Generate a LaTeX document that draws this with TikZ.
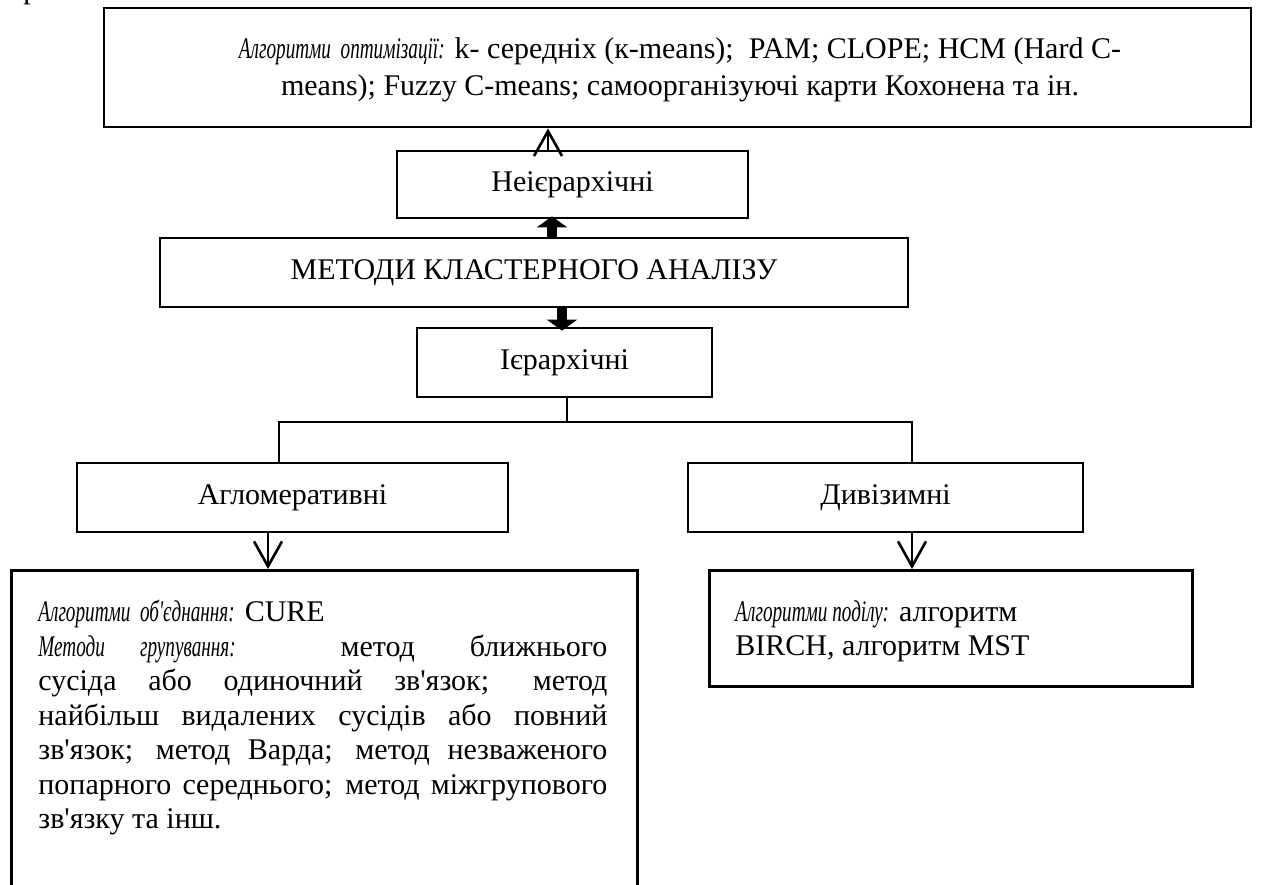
\documentclass[tikz,border=0pt]{standalone}
\usepackage{fontspec}
\setmainfont{Liberation Serif}[Ligatures=TeXOff, ItalicFeatures={FakeStretch=0.64}]
\usetikzlibrary{arrows.meta}
\begin{document}
\begin{tikzpicture}[x=0.5pt,y=-0.5pt,
  txt/.style={font=\fontsize{15}{17.25}\selectfont},
  box/.style={draw, line width=1.4pt, inner sep=0pt, txt},
  conn/.style={line width=1.2pt},
  openarr/.style={line width=1.3pt, -{Straight Barb[length=12.5pt,width=14pt]}},
  thickarr/.style={line width=5pt, -{Triangle[length=5.5pt,width=15pt]}}]
\useasboundingbox (0,0) rectangle (1261,884);
\clip (0,0) rectangle (1261,884);
\fill[white] (0,0) rectangle (1261,884);

% cut-off letter at the top left
\node[txt, anchor=base, inner sep=0pt] (pcut) at (31,-1.5) {р};

% boxes
\node[box, minimum width=573.5pt, minimum height=59.5pt] (top) at (677.5,67.5) {};
\node[txt, align=center, inner sep=0pt, font=\fontsize{15}{18.5}\selectfont] (toptext) at (680,70)
  {\textit{Алгоритми\ \ оптимізації:} k- середніх (к-means);\ \ PAM; CLOPE; HCM (Hard C-\\
   means); Fuzzy C-means; самоорганізуючі карти Кохонена та ін.};
\node[box, minimum width=175.5pt, minimum height=33.5pt] (nei) at (572.5,184.5) {Неієрархічні};
\node[box, minimum width=374pt, minimum height=34.5pt] (metody) at (534,272.5) {МЕТОДИ КЛАСТЕРНОГО АНАЛІЗУ};
\node[box, minimum width=147.5pt, minimum height=34.5pt] (iyer) at (564.5,362.5) {Ієрархічні};
\node[box, minimum width=215.5pt, minimum height=34.5pt] (aglo) at (292.5,497.5) {Агломеративні};
\node[box, minimum width=197.5pt, minimum height=34.5pt] (dyv) at (885.5,497.5) {Дивізимні};
\node[box, anchor=north west, minimum width=313pt, minimum height=175pt] (bigL) at (10,569) {};
\node[box, anchor=north west, minimum width=241.5pt, minimum height=58pt] (bigR) at (708,569) {};

% box texts
\node[txt, anchor=north west, inner sep=0pt, text width=284.5pt, align=justify] (bigLtext) at (38,600)
  {\textit{Алгоритми\ \ об'єднання:} CURE\\
   \textit{Методи групування:} метод ближнього\linebreak
   сусіда або одиночний зв'язок; метод\linebreak
   найбільш видалених сусідів або повний\linebreak
   зв'язок; метод Варда; метод незваженого\linebreak
   попарного середнього; метод міжгрупового\linebreak
   зв'язку та інш.};
\node[txt, anchor=north west, inner sep=0pt, align=left] (bigRtext) at (735,600)
  {\textit{Алгоритми поділу:} алгоритм\\ BIRCH, алгоритм MST};

% connectors
\draw[openarr] (548,0 |- nei.north) -- (548,0 |- top.south);
\draw[thickarr, shorten >=-1.5pt] (552,0 |- metody.north) -- (552,0 |- nei.south);
\draw[thickarr, shorten >=-2pt] (562,0 |- metody.south) -- (562,0 |- iyer.north);
\coordinate (splitL) at (279,422);
\coordinate (splitM) at (567,422);
\coordinate (splitR) at (912,422);
\draw[conn] (567,0 |- iyer.south) -- (splitM);
\draw[conn] (279,0 |- aglo.north) -- (splitL) -- (splitR) -- (912,0 |- dyv.north);
\draw[openarr] (268,0 |- aglo.south) -- (268,0 |- bigL.north);
\draw[openarr] (912,0 |- dyv.south) -- (912,0 |- bigR.north);
\end{tikzpicture}
\end{document}
